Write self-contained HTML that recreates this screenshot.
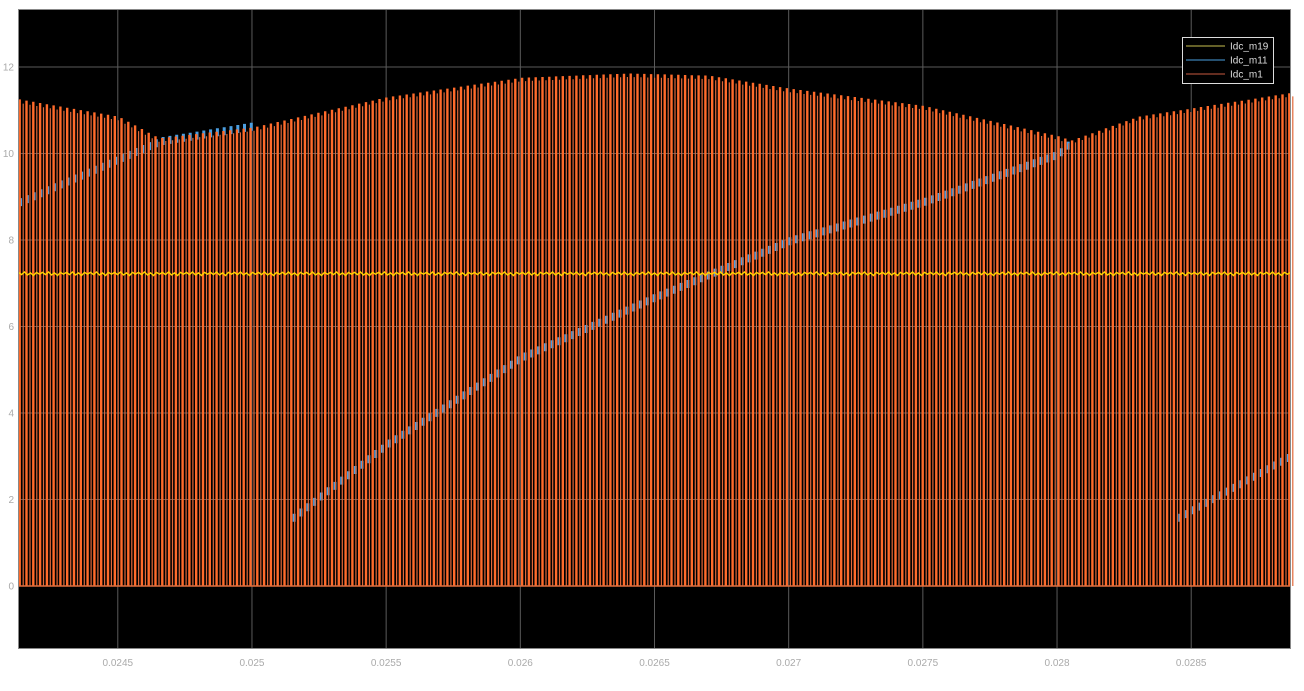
<!DOCTYPE html>
<html><head><meta charset="utf-8"><style>
html,body{margin:0;padding:0;background:#fff;}
svg{display:block;font-family:"Liberation Sans",sans-serif;}
</style></head><body>
<svg id="chart" width="1304" height="691" viewBox="0 0 1304 691" xmlns="http://www.w3.org/2000/svg">
<rect x="18.5" y="9.5" width="1272" height="639" fill="#000"/>
<g id="grid"></g>
<g id="series"></g>
<g id="axes"></g>
<g>
<rect x="1182.5" y="37.5" width="91" height="46" fill="#000" stroke="#ddd" stroke-width="1"/>
<line x1="1186" y1="46" x2="1225" y2="46" stroke="#c8c050" stroke-width="1"/>
<text x="1230" y="49.5" font-size="10" fill="#ddd">Idc_m19</text>
<line x1="1186" y1="60" x2="1225" y2="60" stroke="#4aa0e0" stroke-width="1"/>
<text x="1230" y="63.5" font-size="10" fill="#ddd">Idc_m11</text>
<line x1="1186" y1="74" x2="1225" y2="74" stroke="#c85a40" stroke-width="1"/>
<text x="1230" y="77.5" font-size="10" fill="#ddd">Idc_m1</text>
</g>
</svg>
<script>
const xTicks=[0.0245,0.025,0.0255,0.026,0.0265,0.027,0.0275,0.028,0.0285];
const xTickLabels=["0.0245","0.025","0.0255","0.026","0.0265","0.027","0.0275","0.028","0.0285"];
const yTicks=[0,2,4,6,8,10,12];
const yTickLabels=["0","2","4","6","8","10","12"];
// upper envelope of Idc_m1 pulses
const m1EnvT=[0.02413,0.0245,0.02465,0.0250,0.0255,0.0260,0.0264,0.0267,0.0270,0.0275,0.0280,0.02805,0.0283,0.02887];
const m1EnvV=[11.25,10.85,10.35,10.6,11.3,11.75,11.85,11.8,11.5,11.1,10.4,10.3,10.85,11.4];
// Idc_m11 segments
const m11T1=[0.02413,0.02465,0.0250];
const m11V1=[8.9,10.3,10.65];
const m11T2=[0.02515,0.0255,0.0260,0.0265,0.0270,0.0275,0.0280,0.02805];
const m11V2=[1.6,3.3,5.3,6.7,8.0,8.9,10.0,10.3];
const m11T3=[0.02845,0.02886];
const m11V3=[1.6,3.0];
const m19Level=7.22;
const m19Ripple=[0.03,-0.02,0.04,-0.03,0.02,-0.04,0.03,-0.01];
const pulsePeriod=25.3e-6;

const NS="http://www.w3.org/2000/svg";
const X0=0.02413,X1=0.02887,PX0=18.5,PX1=1290.5;
const xs=t=>PX0+(t-X0)/(X1-X0)*(PX1-PX0);
const ys=v=>586-v*43.25;
function mk(tag,attrs,parent){const e=document.createElementNS(NS,tag);for(const k in attrs)e.setAttribute(k,attrs[k]);parent.appendChild(e);return e;}
function interp(T,V,t){if(t<=T[0])return V[0];for(let i=1;i<T.length;i++){if(t<=T[i]){const f=(t-T[i-1])/(T[i]-T[i-1]);return V[i-1]+f*(V[i]-V[i-1]);}}return V[V.length-1];}
const grid=document.getElementById('grid'),axes=document.getElementById('axes'),ser=document.getElementById('series');
xTicks.forEach((t,i)=>{
 const l=mk('line',{x1:xs(t),x2:xs(t),y1:9.5,y2:648.5,stroke:'#5a5a5a','stroke-width':1},grid);
 
 const tx=mk('text',{x:xs(t),y:666,'font-size':10,fill:'#aaa','text-anchor':'middle'},axes);
 
 tx.textContent=xTickLabels[i];
});
yTicks.forEach((v,i)=>{
 const l=mk('line',{x1:18.5,x2:1290.5,y1:ys(v),y2:ys(v),stroke:'#5a5a5a','stroke-width':1},grid);
 
 const tx=mk('text',{x:14,y:ys(v)+3.5,'font-size':10,fill:'#aaa','text-anchor':'end'},axes);
 
 tx.textContent=yTickLabels[i];
});
const frame=mk('rect',{x:18.5,y:9.5,width:1272,height:639,fill:'none',stroke:'#888','stroke-width':1},axes);

// m11 (drawn beneath m1 pulses, visible in gaps)
const g2=mk('g',{},ser);
[[m11T1,m11V1],[m11T2,m11V2],[m11T3,m11V3]].forEach(([T,V])=>{
 let dd='';
 for(let t=T[0];t<=T[T.length-1];t+=pulsePeriod){
  const v=interp(T,V,t);const x=xs(t)+2.0;
  dd+=`M${x.toFixed(1)} ${(ys(v)-3).toFixed(1)}v8`;
 }
 const p=mk('path',{d:dd,stroke:'#4a9ee0','stroke-width':3,fill:'none'},g2);
 
});
// m1 pulses
const g1=mk('g',{},ser);
let d='',d2='';
for(let t=X0;t<X1;t+=pulsePeriod){
 const v=interp(m1EnvT,m1EnvV,t);const x=xs(t);
 d+=`M${x.toFixed(1)} ${ys(0)}V${ys(v).toFixed(1)}h2.4V${ys(0)}Z`;
 const t2=t+pulsePeriod*0.6,v2=interp(m1EnvT,m1EnvV,t2)-0.08;
 d2+=`M${xs(t2).toFixed(1)} ${ys(0)}V${ys(v2).toFixed(1)}h1.2V${ys(0)}Z`;
}
const p1=mk('path',{d:d,fill:'#ff6b2b'},g1);

const p2=mk('path',{d:d2,fill:'#e0683a'},g1);

const zl=mk('line',{x1:18.5,x2:1290.5,y1:ys(0),y2:ys(0),stroke:'#e07040','stroke-width':1.5},g1);

// m19
const g3=mk('g',{},ser);
let pts=[],k=0;
for(let x=PX0;x<=PX1;x+=3){pts.push(x.toFixed(1)+','+ys(m19Level+m19Ripple[k%m19Ripple.length]).toFixed(1));k++;}
const pl=mk('polyline',{points:pts.join(' '),stroke:'#ffd400','stroke-width':1.4,fill:'none'},g3);

</script>
</body></html>
